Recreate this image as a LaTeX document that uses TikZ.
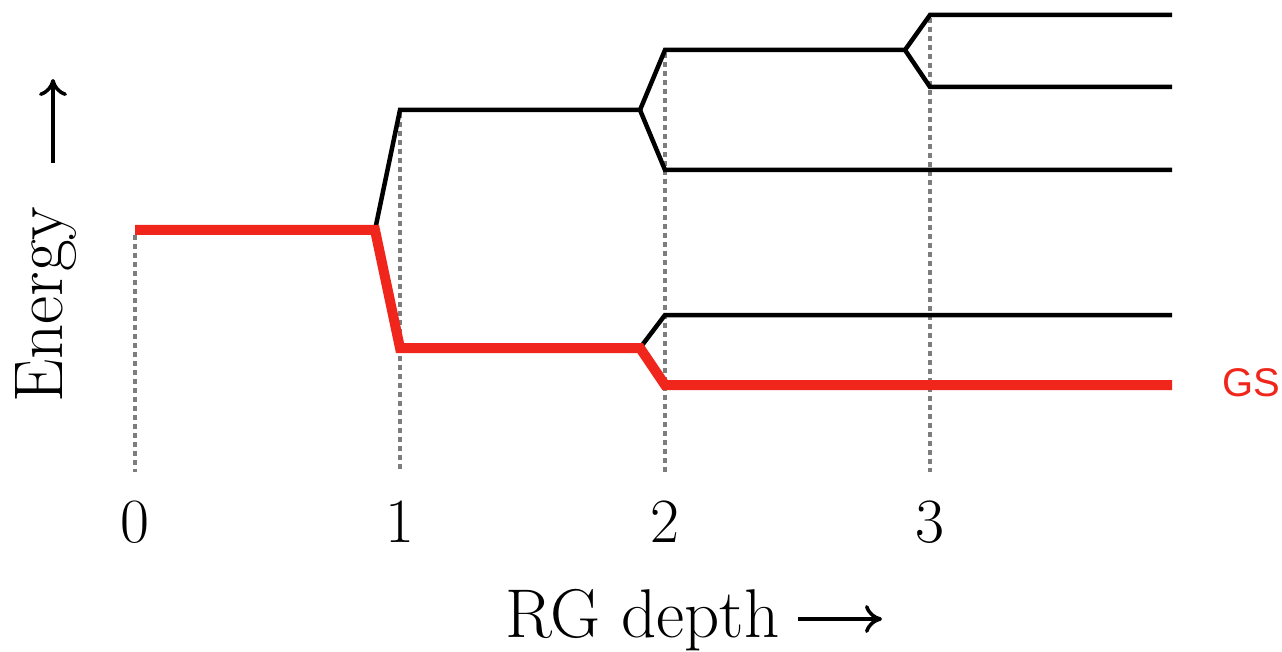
\documentclass[tikz,border=0pt]{standalone}
\usepackage{fontspec}
\newfontfamily\gsfont{Liberation Sans}
\usetikzlibrary{arrows.meta}
\definecolor{gsred}{RGB}{240,38,28}
\definecolor{guidegray}{RGB}{125,125,125}
\begin{document}
\begin{tikzpicture}[x=1pt,y=-1pt,
  level/.style={line width=4.5pt,line join=miter},
  gsline/.style={gsred,line width=10pt,line join=miter},
  guide/.style={guidegray,line width=3.5pt,dash pattern=on 5pt off 4pt},
  ticklabel/.style={anchor=base,inner sep=0pt,font=\fontsize{63}{63}\selectfont},
  axislabel/.style={inner sep=0pt,font=\fontsize{69}{69}\selectfont},
  axisarrow/.style={line width=3.5pt,-{Computer Modern Rightarrow[length=17pt,width=28pt]}}]
\useasboundingbox (0,0) rectangle (1282,652);

% branching points of the spectrum
\coordinate (s0)  at (135,230);
\coordinate (b1)  at (375,230);
\coordinate (u1)  at (400,110);
\coordinate (d1)  at (400,348);
\coordinate (bu2) at (640,110);
\coordinate (uu2) at (665,50);
\coordinate (ud2) at (665,170);
\coordinate (bd2) at (640,348);
\coordinate (du2) at (665,315);
\coordinate (dd2) at (665,385);
\coordinate (bu3) at (905,50);
\coordinate (uu3) at (930,15);
\coordinate (ud3) at (930,87);
% right ends of the levels
\coordinate (e1) at (1172,15);
\coordinate (e2) at (1172,87);
\coordinate (e3) at (1172,170);
\coordinate (e4) at (1172,315);
\coordinate (e5) at (1172,385);

% dotted guides for each RG step
\coordinate (g0t) at (135,235); \coordinate (g0b) at (135,472);
\coordinate (g1t) at (400,113); \coordinate (g1b) at (400,472);
\coordinate (g2t) at (665,53);  \coordinate (g2b) at (665,472);
\coordinate (g3t) at (930,18);  \coordinate (g3b) at (930,472);
\draw[guide] (g0t) -- (g0b);
\draw[guide] (g1t) -- (g1b);
\draw[guide] (g2t) -- (g2b);
\draw[guide] (g3t) -- (g3b);

% excited levels
\draw[level] (b1) -- (u1) -- (bu2) -- (uu2) -- (bu3) -- (uu3) -- (e1);
\draw[level] (bu3) -- (ud3) -- (e2);
\draw[level] (bu2) -- (ud2) -- (e3);
\draw[level] (bd2) -- (du2) -- (e4);

% ground state
\draw[gsline] (s0) -- (b1) -- (d1) -- (bd2) -- (dd2) -- (e5);
\node[anchor=base west,inner sep=0pt,text=gsred,font=\gsfont\fontsize{40}{40}\selectfont] (gs) at (1222,396) {GS};

% step labels
\node[ticklabel] (t0) at (135,542) {0};
\node[ticklabel] (t1) at (400,542) {1};
\node[ticklabel] (t2) at (665,542) {2};
\node[ticklabel] (t3) at (930,542) {3};

% axis labels
\node[axislabel,anchor=base west] (xl) at (505,637) {RG depth};
\coordinate (xa0) at (798,619);
\coordinate (xa1) at (882,619);
\draw[axisarrow] (xa0) -- (xa1);

\node[axislabel,anchor=base west,rotate=90] (yl) at (62,403) {Energy};
\coordinate (ya0) at (53,163);
\coordinate (ya1) at (53,79);
\draw[axisarrow] (ya0) -- (ya1);
\end{tikzpicture}
\end{document}
